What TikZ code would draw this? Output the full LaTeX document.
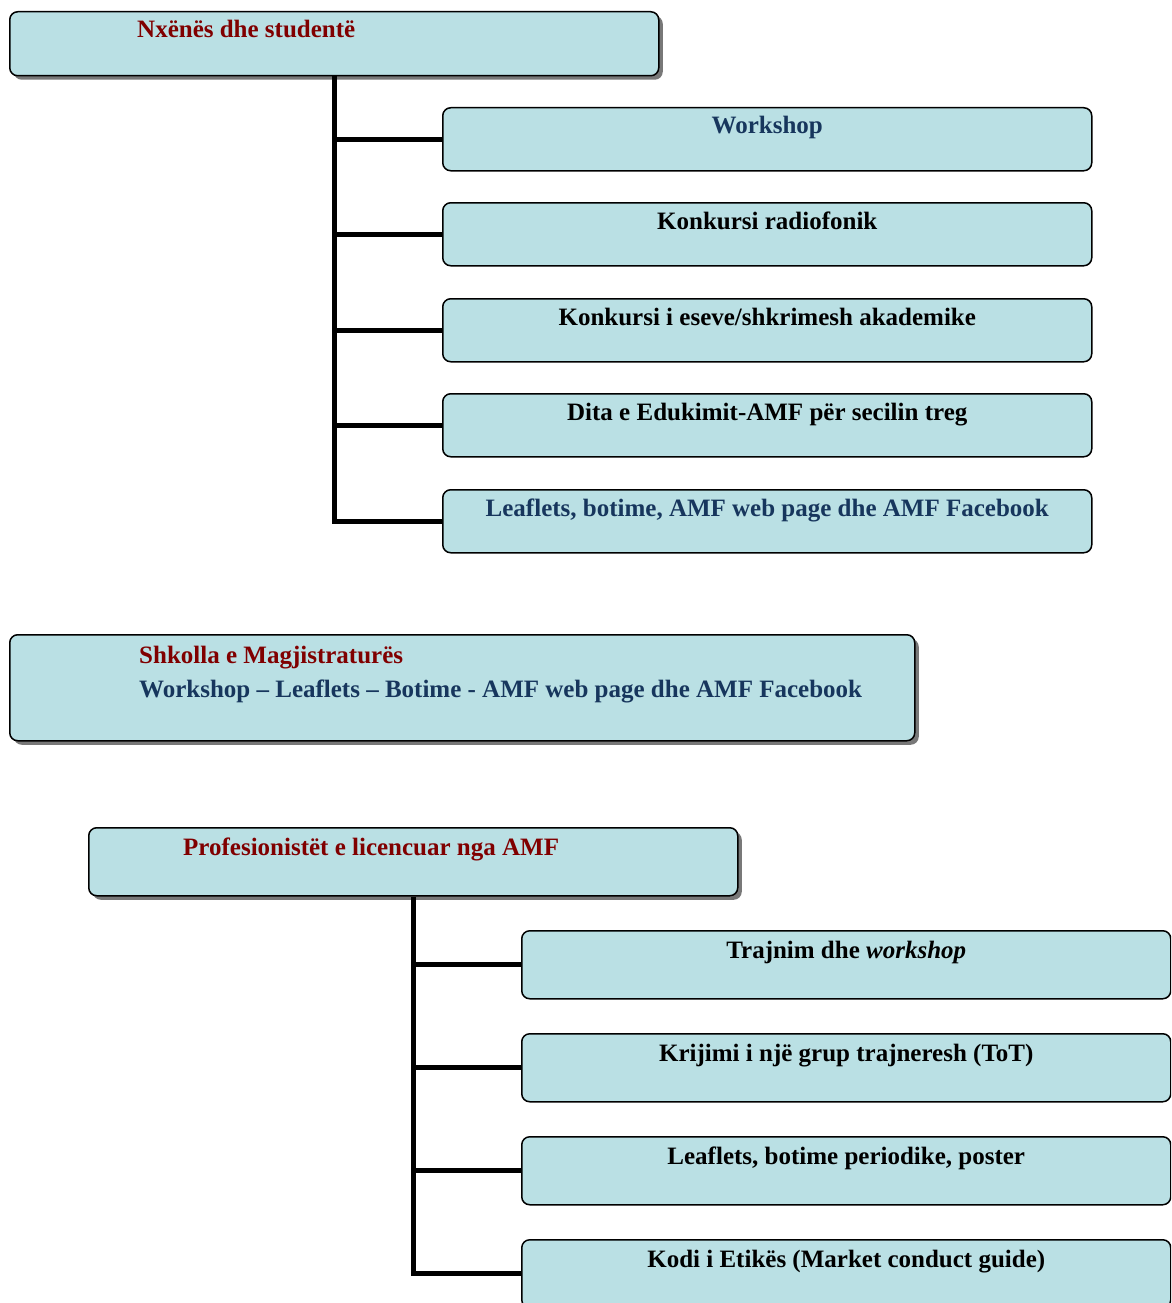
\documentclass[tikz,border=0pt]{standalone}
\usepackage{fontspec}
\setmainfont{Liberation Serif}
\usetikzlibrary{shadows}
\definecolor{boxfill}{RGB}{186,224,228}
\definecolor{darkred}{RGB}{128,0,0}
\definecolor{navy}{RGB}{23,54,93}
\definecolor{shadowgray}{RGB}{120,120,120}
\tikzset{
  box/.style={draw=black, line width=1.5pt, rounded corners=8pt, fill=boxfill,
    anchor=north west, inner sep=0pt},
  parentbox/.style={box, drop shadow={shadow xshift=4pt, shadow yshift=-4pt,
    fill=shadowgray, opacity=1}},
  link/.style={line width=5pt},
  lbl/.style={anchor=base, inner sep=0pt, font=\fontsize{25}{30}\selectfont\bfseries}
}
\begin{document}
\begin{tikzpicture}[x=1pt,y=-1pt]
\useasboundingbox (0,0) rectangle (1171,1303);
\clip (0,0) rectangle (1171,1303);

% The first group
\node[parentbox, minimum width=649pt, minimum height=64pt] (nx) at (9,11) {};
\node[lbl, anchor=base west, text=darkred] (nxt) at (137,38) {Nxënës dhe studentë};
\foreach \i/\top/\txt/\col in {
  1/107/Workshop/navy,
  2/202/Konkursi radiofonik/black,
  3/298/Konkursi i eseve\slash shkrimesh akademike/black,
  4/393/Dita e Edukimit-AMF për secilin treg/black,
  5/489/{Leaflets, botime, AMF web page dhe AMF Facebook}/navy} {
  \node[box, minimum width=649pt, minimum height=63pt] (c\i) at (442,\top) {};
  \node[lbl, text=\col] (ct\i) at ([yshift=-27pt]c\i.north) {\txt};
  \draw[link] (nx.south |- c\i.west) -- (c\i.west);
}
\draw[link] (nx.south) |- (c5.west);

% The second group
\node[parentbox, minimum width=905pt, minimum height=106pt] (sm) at (9,634) {};
\node[lbl, anchor=base west, text=darkred] (smt1) at (139,663) {Shkolla e Magjistraturës};
\node[lbl, anchor=base west, text=navy] (smt2) at (139,697)
  {Workshop – Leaflets – Botime - AMF web page dhe AMF Facebook};

% The third group
\node[parentbox, minimum width=649pt, minimum height=68pt] (pr) at (88,827) {};
\node[lbl, anchor=base west, text=darkred] (prt) at (183,855) {Profesionistët e licencuar nga AMF};
\foreach \i/\top/\txt in {
  1/930/Trajnim dhe \textit{workshop},
  2/1033/Krijimi i një grup trajneresh (ToT),
  3/1136/{Leaflets, botime periodike, poster},
  4/1239/Kodi i Etikës (Market conduct guide)} {
  \node[box, minimum width=649pt, minimum height=68pt] (d\i) at (521,\top) {};
  \node[lbl] (dt\i) at ([yshift=-28pt]d\i.north) {\txt};
  \draw[link] (pr.south |- d\i.west) -- (d\i.west);
}
\draw[link] (pr.south) |- (d4.west);
\end{tikzpicture}
\end{document}
